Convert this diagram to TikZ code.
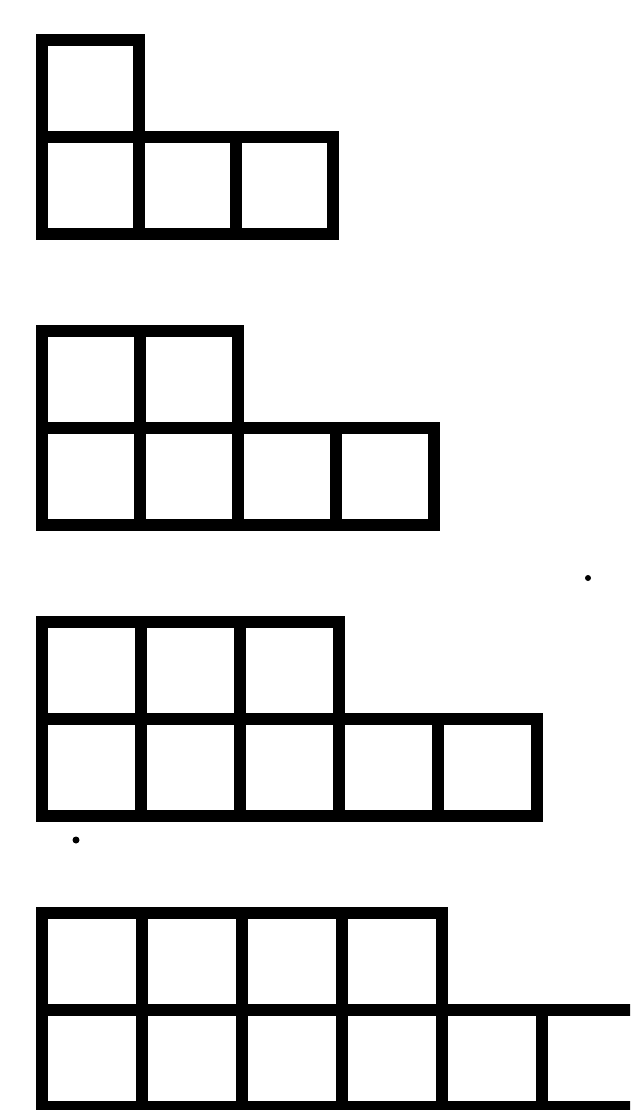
\documentclass[tikz,border=0pt]{standalone}
\tikzset{
  grille/.style={
    line width=0.23cm,
    draw=black,
    line join=miter
  },
  tache/.style={
    fill=black
  }
}
\begin{document}
\begin{tikzpicture}[x=0.02cm,y=-0.02cm]
\useasboundingbox (0,0) rectangle (630,1110);
\clip (0,0) rectangle (630,1110);
% figure k: k cases en haut, k+2 en bas
\foreach \k in {1,...,4} {
  \pgfmathsetmacro{\yh}{40+291*(\k-1)}
  \pgfmathsetmacro{\cote}{96+\k}
  \pgfmathtruncatemacro{\nb}{\k+2}
  \foreach \i in {1,...,\k}
    \draw[grille] ({42+\cote*(\i-1)},\yh) rectangle ++(\cote,97);
  \foreach \i in {1,...,\nb}
    \draw[grille] ({42+\cote*(\i-1)},\yh+97) rectangle ++(\cote,97);
}
\fill[tache] (588,578) circle (3);
\fill[tache] (76,840) circle (3.5);
\end{tikzpicture}
\end{document}
